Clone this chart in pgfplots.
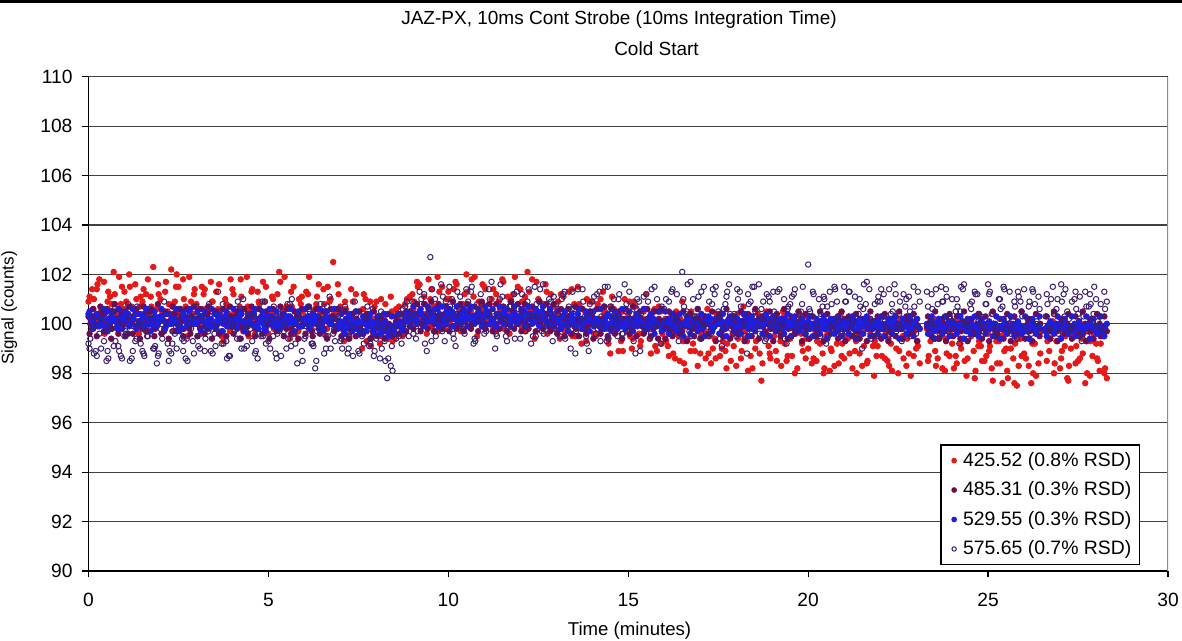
\documentclass[border=0pt]{standalone}
\usepackage{pgfplots}
\pgfplotsset{compat=1.18}
\usepackage{pgfplotstable}
\usepackage{fontspec}
\setmainfont{Liberation Sans}

\definecolor{cred}{RGB}{230,25,25}
\definecolor{cmaroon}{RGB}{115,10,75}
\definecolor{cblue}{RGB}{30,30,225}
\definecolor{copen}{RGB}{60,30,110}

% t = time (min), r = 425.52, m = 485.31, b = 529.55, o = 575.65
\pgfplotstableread{
t r m b o
0.0 100.9 100.3 100.4 99.2
0.1 101.4 99.8 100.1 100.3
0.2 100.2 100.0 100.3 98.9
0.3 101.8 100.4 99.9 99.6
0.4 100.6 100.1 100.2 100.6
0.5 99.9 99.7 100.5 98.5
0.6 101.1 100.2 100.0 99.9
0.7 102.1 100.5 100.2 99.1
0.8 100.4 99.9 99.8 100.4
0.9 100.8 100.0 100.3 98.7
1.0 101.3 100.3 100.1 99.5
1.1 100.0 99.6 100.4 100.8
1.2 100.7 100.1 100.2 98.6
1.3 101.6 100.4 99.9 99.3
1.4 99.6 100.0 100.1 100.1
1.5 100.9 99.8 100.3 98.9
1.6 101.2 100.2 100.6 99.7
1.7 100.3 100.5 100.0 100.5
1.8 102.3 99.9 100.2 99.0
1.9 100.6 100.1 99.9 98.4
2.0 101.0 100.3 100.3 99.8
2.1 99.8 99.7 100.1 100.9
2.2 100.5 100.0 100.4 99.2
2.3 102.2 100.2 100.0 98.8
2.4 100.9 100.4 100.2 99.6
2.5 101.5 99.9 99.8 100.3
2.6 100.1 100.1 100.3 99.4
2.7 100.7 100.3 100.1 98.6
2.8 101.9 99.8 100.5 100.0
2.9 100.4 100.0 100.2 99.3
3.0 100.8 100.2 100.0 100.7
3.1 99.9 99.8 100.3 99.0
3.2 101.2 100.1 100.1 99.8
3.3 100.3 100.4 99.8 100.4
3.4 101.7 99.9 100.2 98.9
3.5 100.0 100.0 100.4 99.6
3.6 100.6 100.3 100.0 101.3
3.7 99.5 99.7 100.1 99.2
3.8 101.0 100.1 100.3 100.1
3.9 100.4 100.2 99.9 98.7
4.0 101.4 99.9 100.2 99.9
4.1 100.1 100.3 100.0 100.6
4.2 100.7 100.0 100.3 99.4
4.3 99.7 99.8 100.1 101.0
4.4 101.9 100.2 99.9 99.1
4.5 100.5 100.4 100.2 99.8
4.6 100.0 99.9 100.4 100.3
4.7 101.3 100.1 100.0 98.6
4.8 100.2 100.3 100.2 99.5
4.9 100.9 99.7 99.8 100.9
5.0 99.6 100.0 100.1 99.3
5.1 101.1 100.2 100.3 100.2
5.2 100.4 99.9 100.0 98.8
5.3 102.1 100.1 100.2 99.7
5.4 100.0 100.4 99.9 100.5
5.5 100.7 99.8 100.1 99.0
5.6 99.4 100.1 100.3 100.8
5.7 101.5 100.0 100.0 99.6
5.8 100.3 100.3 100.2 98.4
5.9 100.8 99.9 99.9 100.1
6.0 100.1 100.2 100.1 99.4
6.1 101.2 100.0 100.3 100.7
6.2 99.8 99.7 100.0 99.2
6.3 100.6 100.3 100.2 98.2
6.4 101.6 100.1 99.8 99.9
6.5 100.2 99.9 100.1 100.4
6.6 99.5 100.2 100.3 99.0
6.7 100.9 100.0 100.0 101.1
6.8 102.5 100.3 100.2 99.6
6.9 100.4 99.8 99.9 100.2
7.0 100.7 100.0 100.1 99.3
7.1 99.3 99.7 99.8 100.5
7.2 100.2 100.2 100.0 98.8
7.3 101.4 99.9 100.2 99.7
7.4 99.8 100.1 99.9 100.9
7.5 100.5 99.8 100.1 98.9
7.6 99.0 100.0 99.7 99.5
7.7 101.0 100.2 100.0 100.2
7.8 100.0 99.9 100.2 99.1
7.9 99.5 99.7 99.9 100.6
8.0 100.9 100.0 100.1 99.4
8.1 99.2 99.8 99.8 98.6
8.2 100.4 100.1 100.0 99.9
8.3 99.7 99.9 99.7 97.8
8.4 101.1 99.6 99.9 98.3
8.5 99.4 99.8 99.8 99.6
8.6 100.2 100.0 100.0 100.4
8.7 99.8 99.7 99.9 99.2
8.8 100.8 100.1 100.2 100.7
8.9 100.3 100.2 100.3 99.5
9.0 101.2 100.3 100.4 100.9
9.1 100.0 100.1 100.2 99.4
9.2 101.6 100.4 100.5 101.3
9.3 100.4 99.9 100.3 100.1
9.4 99.6 100.2 100.1 98.9
9.5 101.0 100.5 100.4 102.7
9.6 100.7 100.0 100.2 99.7
9.7 101.9 100.3 100.6 100.5
9.8 100.2 100.1 100.3 101.6
9.9 99.8 100.4 100.0 99.3
10.0 101.3 100.2 100.3 100.2
10.1 100.5 99.9 100.5 101.0
10.2 101.7 100.3 100.2 99.1
10.3 99.9 100.1 100.4 100.6
10.4 100.8 100.5 100.1 99.8
10.5 102.0 100.2 100.3 101.4
10.6 100.3 99.9 100.6 100.0
10.7 101.1 100.3 100.2 99.2
10.8 99.5 100.1 100.4 100.8
10.9 100.6 100.4 100.1 101.2
11.0 101.5 100.0 100.3 99.6
11.1 100.1 100.3 100.5 100.4
11.2 101.0 100.2 100.2 101.7
11.3 99.7 99.9 100.0 99.0
11.4 100.9 100.4 100.4 100.3
11.5 101.8 100.1 100.3 101.1
11.6 100.4 100.3 100.6 99.5
11.7 99.6 100.0 100.2 100.7
11.8 101.2 100.5 100.4 99.9
11.9 100.0 100.2 100.1 101.3
12.0 101.4 100.1 100.3 99.4
12.1 100.6 100.4 100.5 100.1
12.2 102.1 99.9 100.2 100.9
12.3 100.2 100.2 100.4 99.2
12.4 99.4 100.3 100.1 101.5
12.5 101.0 100.0 100.3 100.3
12.6 100.5 100.2 100.5 99.7
12.7 101.6 100.4 100.2 100.6
12.8 99.9 99.9 100.0 101.0
12.9 100.7 100.2 100.3 99.3
13.0 100.3 100.1 100.2 100.8
13.1 99.4 99.8 100.0 99.5
13.2 101.1 100.2 100.3 101.2
13.3 100.0 100.0 99.9 100.2
13.4 99.6 100.3 100.1 99.0
13.5 100.8 99.9 100.2 100.6
13.6 101.5 100.1 100.4 101.4
13.7 99.2 100.2 100.0 99.8
13.8 100.5 99.8 100.1 100.3
13.9 99.9 100.0 100.3 98.9
14.0 100.9 100.3 100.0 100.9
14.1 99.5 100.1 100.2 99.6
14.2 100.2 99.9 99.9 101.3
14.3 101.3 100.2 100.1 100.0
14.4 99.8 100.0 100.3 99.3
14.5 98.8 99.8 100.0 100.7
14.6 100.6 100.1 100.2 101.0
14.7 100.1 100.3 99.8 99.5
14.8 99.3 99.9 100.1 100.2
14.9 101.0 100.2 100.0 101.6
15.0 100.4 100.0 100.2 99.7
15.1 99.0 99.7 99.9 100.4
15.2 100.7 100.1 100.1 98.8
15.3 99.6 100.2 100.3 100.9
15.4 100.2 99.9 100.0 99.9
15.5 101.2 100.0 99.8 101.2
15.6 99.4 100.3 100.1 99.4
15.7 100.0 99.8 100.2 100.5
15.8 98.9 100.0 99.9 101.0
15.9 100.5 100.1 100.0 99.2
16.0 99.8 99.9 100.1 100.6
16.1 99.1 100.2 99.9 99.8
16.2 100.4 99.8 100.0 101.3
16.3 98.6 100.0 100.2 100.1
16.4 99.5 100.1 99.8 99.3
16.5 100.9 99.7 100.0 102.1
16.6 98.1 99.9 100.1 100.4
16.7 99.9 100.2 99.9 99.7
16.8 99.2 100.0 100.2 101.0
16.9 100.3 99.8 100.0 100.2
17.0 98.8 100.1 99.8 99.4
17.1 99.7 99.9 100.1 101.5
17.2 100.6 100.2 100.0 100.0
17.3 98.4 99.8 100.2 99.6
17.4 99.4 100.0 99.9 101.2
17.5 100.1 100.1 100.0 100.5
17.6 99.0 99.7 100.1 99.1
17.7 98.9 100.0 99.8 100.8
17.8 100.2 100.2 100.0 101.6
17.9 99.6 99.9 100.2 100.2
18.0 98.3 100.0 99.9 99.5
18.1 99.8 99.8 100.1 101.3
18.2 100.7 100.1 99.9 100.4
18.3 99.3 99.9 100.0 98.8
18.4 98.7 100.2 100.2 100.9
18.5 99.9 99.8 99.8 101.5
18.6 100.4 100.0 100.1 99.9
18.7 97.7 100.1 99.9 100.6
18.8 99.5 99.7 100.0 99.3
18.9 99.1 100.0 100.2 101.1
19.0 100.2 99.9 99.9 100.2
19.1 98.9 100.2 100.1 99.7
19.2 99.7 99.8 100.0 101.4
19.3 100.5 100.0 99.8 100.0
19.4 98.5 99.9 100.1 99.2
19.5 99.4 100.1 99.9 100.8
19.6 99.9 99.8 100.2 101.2
19.7 98.2 100.0 100.0 99.8
19.8 99.6 100.2 99.8 100.5
19.9 100.3 99.9 100.0 99.6
20.0 99.0 99.8 100.1 102.4
20.1 98.4 100.0 99.9 100.3
20.2 99.7 99.9 99.8 99.5
20.3 100.1 99.7 100.0 101.0
20.4 98.8 100.1 99.9 100.7
20.5 99.5 99.8 100.1 99.2
20.6 98.1 99.9 99.8 101.3
20.7 99.9 100.0 100.0 100.0
20.8 99.2 99.7 99.9 100.9
20.9 100.4 99.9 100.1 99.6
21.0 98.6 100.2 99.8 101.5
21.1 99.4 99.8 100.0 100.2
21.2 100.0 99.9 99.9 99.7
21.3 98.9 100.1 100.1 101.1
21.4 99.6 99.7 99.8 100.4
21.5 98.3 99.9 100.0 99.0
21.6 99.8 100.0 99.9 100.8
21.7 100.2 99.8 100.1 101.4
21.8 99.1 99.9 99.8 100.1
21.9 98.7 100.1 99.9 99.5
22.0 99.5 99.8 100.0 100.9
22.1 100.3 99.9 99.8 101.2
22.2 98.5 100.0 100.0 99.8
22.3 99.2 99.7 99.9 100.4
22.4 99.9 100.1 100.1 101.6
22.5 98.0 99.9 99.8 100.0
22.6 99.4 99.8 99.9 99.3
22.7 100.1 100.0 100.0 100.7
22.8 98.8 99.9 99.8 101.1
22.9 99.6 99.7 100.1 100.2
23.0 99.0 100.0 99.9 99.6
23.1 98.4 99.8 99.8 100.9
23.3 99.8 99.9 100.0 101.3
23.4 99.3 100.1 99.9 100.1
23.5 100.2 99.8 99.7 99.4
23.6 98.6 99.9 100.0 100.8
23.7 99.5 100.0 99.9 101.5
23.8 98.1 99.7 99.8 100.3
23.9 99.9 99.9 100.1 99.7
24.0 99.2 100.0 99.9 101.0
24.1 98.7 99.8 99.8 100.5
24.2 100.1 99.9 100.0 99.2
24.3 99.4 100.1 99.9 101.4
24.4 97.9 99.8 99.7 100.1
24.5 99.7 99.9 100.0 100.8
24.6 98.9 99.7 99.9 99.6
24.7 100.3 100.0 99.8 101.2
24.8 99.1 99.9 100.1 100.3
24.9 98.5 99.8 99.9 99.9
25.0 99.6 99.9 99.8 101.6
25.1 98.2 100.0 99.9 100.4
25.2 99.9 99.7 100.0 99.5
25.3 99.3 99.9 99.8 101.0
25.4 97.6 99.8 99.9 100.7
25.5 99.0 100.0 99.7 99.8
25.6 100.0 99.8 99.9 101.3
25.7 98.6 99.9 100.0 100.1
25.8 97.5 99.7 99.8 99.4
25.9 99.4 99.9 99.9 100.9
26.0 98.8 99.8 99.7 101.4
26.1 99.7 100.0 99.9 100.2
26.2 97.6 99.9 100.0 99.6
26.3 99.2 99.7 99.8 100.8
26.4 98.4 99.9 99.9 101.1
26.6 99.8 99.8 99.7 100.3
26.7 98.9 100.0 99.9 99.7
26.8 100.1 99.9 99.8 101.5
26.9 99.3 99.7 100.0 100.6
27.0 98.2 99.8 99.9 100.0
27.1 99.6 99.9 99.8 101.2
27.2 97.8 100.0 99.9 100.5
27.3 99.0 99.8 99.7 99.8
27.4 99.9 99.9 100.0 101.0
27.5 98.5 99.7 99.8 100.4
27.6 99.4 99.9 99.9 99.3
27.7 97.6 100.0 99.8 101.3
27.8 99.7 99.8 100.0 100.7
27.9 98.7 99.9 99.9 100.1
28.0 99.2 99.8 99.7 101.0
28.1 98.1 100.0 99.9 100.3
28.2 99.5 99.9 99.8 99.8
28.3 97.8 99.7 100.0 100.9
0.05 100.3 100.0 100.2 99.4
0.15 101.0 100.3 100.0 98.8
0.25 101.6 99.9 100.3 100.1
0.35 100.5 100.2 100.1 99.0
0.45 99.6 100.4 99.9 99.7
0.55 101.3 100.0 100.2 98.6
0.65 100.8 99.8 100.4 100.5
0.75 100.1 100.2 100.1 99.3
0.85 101.9 100.1 99.9 98.9
0.95 100.6 99.9 100.2 100.0
1.05 100.9 100.2 100.3 99.6
1.15 101.5 100.0 100.0 98.5
1.25 100.2 100.3 100.2 99.9
1.35 99.7 99.9 100.4 100.7
1.45 101.1 100.1 100.1 99.2
1.55 100.4 100.4 99.9 98.7
1.65 101.8 100.0 100.2 99.5
1.75 100.7 100.2 100.0 100.2
1.85 99.9 99.8 100.3 99.1
1.95 101.2 100.1 100.1 98.8
2.05 100.5 100.3 100.2 99.4
2.15 101.7 99.9 100.4 100.4
2.25 100.0 100.1 100.0 98.9
2.35 100.8 100.4 100.2 99.7
2.45 102.0 100.0 100.1 99.0
2.55 100.3 100.2 99.9 100.6
2.65 101.0 99.8 100.3 99.3
2.75 99.5 100.1 100.1 98.5
2.85 100.9 100.3 100.0 99.8
2.95 101.4 100.0 100.2 100.3
3.05 100.2 100.1 100.1 99.1
3.15 101.5 100.3 100.3 100.0
3.25 100.6 99.9 100.0 99.4
3.35 99.8 100.2 100.2 100.8
3.45 100.9 100.0 99.9 98.8
3.55 101.3 99.8 100.1 99.9
3.65 100.1 100.2 100.3 100.5
3.75 99.3 100.1 100.0 99.2
3.85 100.7 99.9 100.2 98.6
3.95 101.8 100.3 100.1 100.2
4.05 100.4 100.0 99.9 99.7
4.15 100.0 100.2 100.2 100.9
4.25 101.1 99.9 100.4 99.0
4.35 100.6 100.1 100.0 99.8
4.45 99.5 100.3 100.1 100.4
4.55 101.4 100.0 100.3 99.3
4.65 100.2 99.8 99.9 98.9
4.75 100.8 100.2 100.2 100.6
4.85 101.7 100.1 100.0 99.5
4.95 100.0 99.9 100.3 100.1
5.05 100.5 100.3 100.1 99.0
5.15 99.8 100.0 100.2 100.7
5.25 101.2 100.2 99.9 99.6
5.35 100.3 99.9 100.1 98.7
5.45 101.9 100.1 100.3 100.0
5.55 100.1 100.3 100.0 99.4
5.65 100.7 99.8 100.2 101.0
5.75 99.6 100.1 100.1 99.2
5.85 101.0 100.2 99.9 100.3
5.95 100.5 100.0 100.2 98.5
6.05 101.3 100.1 100.0 99.9
6.15 99.9 99.9 100.2 100.5
6.25 100.4 100.3 100.1 99.1
6.35 101.1 100.0 100.3 99.7
6.45 99.7 100.2 99.9 100.8
6.55 100.8 99.8 100.1 98.8
6.65 101.5 100.1 100.2 99.5
6.75 100.0 100.3 100.0 100.2
6.85 100.6 99.9 100.2 99.3
6.95 101.2 100.1 99.9 100.6
7.05 99.8 99.9 100.0 99.0
7.15 100.6 100.1 100.2 100.1
7.25 99.4 99.8 99.9 99.5
7.35 100.9 100.0 100.1 98.7
7.45 100.2 100.2 99.8 100.4
7.55 99.6 99.9 100.0 99.8
7.65 101.2 99.7 100.2 99.2
7.75 100.4 100.1 99.9 100.7
7.85 99.1 100.0 100.1 99.4
7.95 100.7 99.8 99.8 98.9
8.05 100.1 100.1 100.0 100.3
8.15 99.5 99.9 99.9 99.0
8.25 100.8 99.7 100.1 98.5
8.35 99.9 100.0 99.8 99.8
8.45 99.3 99.8 99.9 98.1
8.55 100.6 100.1 100.0 99.4
8.65 100.0 99.9 100.1 100.2
8.75 99.6 100.0 99.8 99.6
8.85 101.0 100.2 100.1 100.9
8.95 100.5 100.1 100.2 99.9
9.05 100.9 100.2 100.3 100.4
9.15 101.5 100.4 100.1 99.7
9.25 100.1 100.0 100.4 101.0
9.35 100.8 100.3 100.2 99.2
9.45 101.8 100.1 100.5 100.6
9.55 99.9 100.4 100.3 101.4
9.65 100.6 100.2 100.1 99.5
9.75 101.3 99.9 100.4 100.3
9.85 100.3 100.3 100.2 101.1
9.95 101.0 100.1 100.5 99.8
10.05 100.0 100.4 100.2 100.7
10.15 101.4 100.2 100.4 99.4
10.25 100.7 100.0 100.1 101.3
10.35 99.7 100.3 100.3 100.0
10.45 101.2 100.1 100.5 99.6
10.55 100.4 100.4 100.2 100.9
10.65 101.8 100.0 100.3 101.5
10.75 100.1 100.2 100.1 99.3
10.85 100.9 100.3 100.4 100.5
10.95 101.6 100.1 100.2 100.1
11.05 100.2 100.4 100.5 99.7
11.15 100.8 100.0 100.3 101.0
11.25 101.4 100.2 100.1 100.4
11.35 100.0 100.3 100.4 99.5
11.45 100.6 100.1 100.2 101.6
11.55 99.8 100.4 100.5 100.2
11.65 101.1 100.0 100.3 99.8
11.75 100.5 100.2 100.1 100.9
11.85 101.9 100.3 100.4 99.4
11.95 100.3 100.1 100.2 100.6
12.05 100.9 100.4 100.3 101.2
12.15 99.7 100.0 100.1 99.9
12.25 101.3 100.2 100.4 100.3
12.35 100.6 100.1 100.2 99.5
12.45 101.7 100.3 100.5 100.8
12.55 100.1 100.0 100.2 101.4
12.65 100.8 100.2 100.3 99.6
12.75 99.6 100.4 100.1 100.2
12.85 101.2 100.1 100.4 100.9
12.95 100.4 100.0 100.2 99.8
13.05 100.9 100.2 100.1 100.4
13.15 99.8 99.9 100.3 101.0
13.25 100.4 100.1 100.0 99.4
13.35 101.3 100.3 100.2 100.7
13.45 99.5 100.0 100.1 101.3
13.55 100.1 99.8 99.9 99.7
13.65 100.7 100.2 100.2 100.1
13.75 99.9 100.1 100.0 100.9
13.85 101.0 99.9 100.3 99.2
13.95 100.3 100.2 100.1 100.5
14.05 99.6 100.0 99.9 101.1
14.15 100.8 100.1 100.2 99.8
14.25 99.9 99.8 100.0 100.3
14.35 100.5 100.2 100.1 101.5
14.45 99.2 100.0 99.9 99.4
14.55 101.1 100.3 100.2 100.6
14.65 99.7 99.9 100.0 100.0
14.75 100.4 100.1 100.3 101.2
14.85 98.9 100.0 99.9 99.6
14.95 100.2 100.2 100.1 100.8
15.05 99.5 99.9 100.0 100.2
15.15 100.9 100.1 100.2 99.3
15.25 100.0 100.0 99.9 101.0
15.35 99.3 100.2 100.1 100.4
15.45 100.6 99.8 100.0 99.7
15.55 99.8 100.1 100.2 100.9
15.65 100.3 100.0 99.9 101.4
15.75 99.1 99.9 100.1 99.9
15.85 100.7 100.2 100.0 100.5
15.95 99.6 100.0 99.8 100.1
16.05 99.3 100.1 100.0 101.0
16.15 100.0 99.8 100.2 99.6
16.25 98.8 100.0 99.9 100.4
16.35 99.6 100.2 100.1 101.2
16.45 100.2 99.9 99.8 99.9
16.55 98.4 100.0 100.0 100.7
16.65 99.4 100.1 100.2 101.6
16.75 100.5 99.8 99.9 99.5
16.85 98.9 100.0 100.1 100.3
16.95 99.7 100.2 100.0 101.1
17.05 100.3 99.9 99.8 100.0
17.15 98.6 100.0 100.1 99.7
17.25 99.5 100.1 100.0 100.9
17.35 99.0 99.8 99.9 101.4
17.45 100.4 100.0 100.2 100.2
17.55 98.7 100.2 100.0 99.4
17.65 99.8 99.9 99.8 100.6
17.75 99.2 100.1 100.1 101.3
17.85 98.5 100.0 100.0 99.8
17.95 100.0 99.8 100.2 100.4
18.05 99.4 100.1 99.9 101.0
18.15 98.9 99.9 100.0 100.1
18.25 99.7 100.0 100.2 99.5
18.35 100.3 100.2 99.8 100.8
18.45 98.2 99.8 100.0 101.5
18.55 99.3 100.0 100.1 100.3
18.65 98.8 100.1 99.9 99.6
18.75 99.9 99.9 100.0 100.9
18.85 100.5 100.0 100.2 101.2
18.95 98.6 99.8 99.9 99.9
19.05 99.5 100.1 100.1 100.5
19.15 99.9 99.9 99.8 101.3
19.25 98.3 100.0 100.0 100.0
19.35 99.2 100.2 100.2 99.4
19.45 100.1 99.8 99.9 100.7
19.55 98.7 100.0 100.1 101.1
19.65 99.6 100.1 99.8 99.7
19.75 100.4 99.9 100.0 100.4
19.85 98.9 100.0 100.1 101.5
19.95 99.4 99.8 99.9 99.9
20.05 99.8 100.0 99.8 100.5
20.15 98.6 99.9 100.0 101.2
20.25 99.3 99.7 99.9 99.8
20.35 100.0 100.0 100.1 100.4
20.45 98.2 99.8 99.8 101.0
20.55 99.6 99.9 100.0 99.5
20.65 98.9 100.1 99.9 100.8
20.75 99.9 99.8 100.1 101.4
20.85 98.4 99.9 99.8 100.1
20.95 99.2 100.0 100.0 99.7
21.05 100.2 99.8 99.9 100.9
21.15 98.8 99.9 100.1 101.3
21.25 99.5 100.1 99.8 100.2
21.35 98.0 99.7 100.0 99.6
21.45 99.7 99.9 99.9 100.7
21.55 99.1 100.0 100.1 101.6
21.65 98.5 99.8 99.8 100.0
21.75 99.9 99.9 100.0 99.4
21.85 99.3 100.1 99.9 100.8
21.95 100.1 99.8 100.1 101.1
22.05 98.7 99.9 99.8 100.3
22.15 99.6 100.0 100.0 99.9
22.25 98.3 99.7 99.9 101.4
22.35 99.8 99.9 100.1 100.5
22.45 99.0 100.0 99.8 99.7
22.55 100.2 99.8 100.0 100.9
22.65 98.6 99.9 99.9 101.2
22.75 99.4 100.1 100.0 100.1
22.85 97.9 99.8 99.8 99.5
22.95 99.7 99.9 100.0 100.7
23.05 99.1 99.9 99.9 101.3
23.35 98.7 99.8 99.9 100.0
23.45 99.9 100.0 100.1 100.6
23.55 98.3 99.9 99.8 101.4
23.65 99.4 99.7 100.0 99.6
23.75 100.0 99.9 99.9 100.9
23.85 98.8 100.0 99.8 101.1
23.95 99.6 99.8 100.0 100.2
24.05 98.2 99.9 99.9 99.8
24.15 99.8 100.0 99.8 100.7
24.25 99.0 99.7 100.0 101.5
24.35 98.5 99.9 99.9 100.0
24.45 99.7 100.0 99.8 99.4
24.55 100.2 99.8 100.0 100.9
24.65 98.1 99.9 99.9 101.2
24.75 99.3 99.7 99.7 100.4
24.85 99.9 99.9 100.0 99.7
24.95 98.7 100.0 99.9 100.8
25.05 99.1 99.8 99.8 101.3
25.15 100.0 99.9 100.0 100.0
25.25 98.4 99.7 99.9 99.6
25.35 99.5 99.9 99.8 100.6
25.45 98.9 100.0 100.0 101.4
25.55 97.8 99.8 99.9 100.2
25.65 99.7 99.9 99.7 99.8
25.75 99.2 99.7 99.9 100.7
25.85 98.3 99.9 100.0 101.1
25.95 99.9 99.8 99.8 100.3
26.05 98.6 99.9 99.9 99.5
26.15 99.4 99.7 99.8 100.9
26.25 98.0 99.9 100.0 101.3
26.35 99.6 99.8 99.9 100.1
26.45 98.8 100.0 99.8 99.7
26.65 99.3 99.9 99.9 100.8
26.75 100.0 99.7 100.0 101.0
26.85 98.4 99.9 99.8 100.4
26.95 99.8 99.8 99.9 99.6
27.05 98.9 100.0 100.0 100.9
27.15 99.5 99.7 99.8 101.4
27.25 98.3 99.9 99.9 100.2
27.35 99.9 99.8 99.7 99.9
27.45 99.1 99.9 100.0 100.6
27.55 98.6 100.0 99.9 101.1
27.65 99.7 99.8 99.8 100.3
27.75 98.0 99.9 99.9 99.5
27.85 99.3 99.7 100.0 100.8
27.95 99.9 99.9 99.8 101.5
28.05 98.5 99.8 99.9 100.1
28.15 99.6 99.9 99.7 99.7
28.25 98.2 99.8 99.9 100.6
0.03 101.1 99.6 100.5 99.0
0.13 100.6 100.6 99.8 99.9
0.23 101.4 99.5 100.4 98.7
0.33 100.0 100.7 100.0 100.2
0.43 101.7 99.7 100.6 99.3
0.53 100.9 100.6 99.7 98.9
0.63 100.3 99.4 100.5 99.8
0.73 101.2 100.8 100.1 100.6
0.83 99.8 99.6 100.6 99.1
0.93 101.5 100.5 99.8 98.6
1.03 100.6 99.5 100.5 99.7
1.13 102.0 100.7 99.9 100.3
1.23 100.1 99.6 100.6 98.9
1.33 101.0 100.6 99.8 99.4
1.43 100.7 99.4 100.4 100.0
1.53 101.4 100.7 100.0 98.8
1.63 99.9 99.7 100.6 99.5
1.73 101.1 100.6 99.7 100.4
1.83 100.5 99.5 100.5 99.0
1.93 101.6 100.8 100.0 98.7
2.03 100.2 99.6 100.6 99.6
2.13 101.3 100.5 99.8 100.1
2.23 100.8 99.4 100.4 98.5
2.33 99.7 100.7 100.1 99.2
2.43 101.5 99.7 100.6 99.9
2.53 100.4 100.6 99.7 100.6
2.63 101.8 99.5 100.5 98.9
2.73 100.6 100.6 99.9 99.4
2.83 100.0 99.6 100.6 100.2
2.93 101.2 100.7 100.0 98.8
3.03 100.6 99.5 100.5 99.5
3.13 99.6 100.6 99.7 100.3
3.23 101.4 99.6 100.5 98.9
3.33 100.5 100.7 100.0 99.7
3.43 100.9 99.4 100.6 100.5
3.53 99.9 100.5 99.8 99.1
3.63 101.6 99.6 100.4 99.6
3.73 100.3 100.6 99.7 100.8
3.83 100.8 99.5 100.5 99.3
3.93 99.7 100.7 100.0 98.7
4.03 101.2 99.6 100.6 100.0
4.13 100.4 100.5 99.8 99.4
4.23 101.8 99.4 100.5 100.6
4.33 100.0 100.6 99.7 99.0
4.43 100.7 99.6 100.4 99.9
4.53 101.3 100.7 100.0 100.4
4.63 99.6 99.5 100.6 98.8
4.73 100.9 100.6 99.8 99.6
4.83 100.2 99.6 100.5 100.9
4.93 101.5 100.5 99.7 99.2
5.03 100.4 99.4 100.6 100.0
5.13 101.0 100.6 99.9 99.5
5.23 99.8 99.7 100.5 98.6
5.33 101.7 100.7 99.8 100.3
5.43 100.6 99.5 100.4 99.7
5.53 100.1 100.6 100.0 100.8
5.63 101.3 99.6 100.6 99.1
5.73 100.5 100.5 99.7 99.8
5.83 99.7 99.4 100.5 100.4
5.93 101.1 100.6 99.9 98.9
6.03 100.3 99.6 100.6 99.5
6.13 101.9 100.7 99.8 100.6
6.23 100.0 99.5 100.4 99.2
6.33 100.8 100.6 100.0 98.5
6.43 100.4 99.6 100.6 100.1
6.53 101.4 100.5 99.7 99.6
6.63 99.8 99.4 100.5 100.7
6.73 101.0 100.6 100.0 99.0
6.83 100.5 99.7 100.6 99.8
6.93 101.6 100.6 99.8 100.3
7.03 100.0 99.5 100.4 99.4
7.13 100.9 100.5 99.6 100.7
7.23 99.5 99.4 100.4 99.0
7.33 100.4 100.4 99.7 99.9
7.43 101.2 99.5 100.5 100.5
7.53 99.8 100.5 99.6 98.8
7.63 100.6 99.6 100.3 99.6
7.73 99.3 100.4 99.7 100.3
7.83 100.9 99.4 100.4 99.2
7.93 100.2 100.5 99.6 98.7
8.03 99.7 99.5 100.3 99.9
8.13 101.0 100.3 99.6 100.5
8.23 100.3 99.4 100.4 99.3
8.33 99.4 100.4 99.5 98.6
8.43 100.5 99.5 100.3 99.1
8.53 99.9 100.3 99.6 100.0
8.63 100.7 99.6 100.4 99.5
8.73 99.5 100.4 99.7 100.6
8.83 100.4 99.7 100.5 99.8
8.93 101.1 100.5 99.9 100.3
9.03 100.6 99.8 100.7 99.6
9.13 101.7 100.8 100.0 100.8
9.23 100.3 99.7 100.6 99.9
9.33 101.1 100.8 99.9 101.2
9.43 100.0 99.8 100.7 100.4
9.53 101.4 100.9 100.1 99.3
9.63 100.7 99.7 100.6 101.0
9.73 99.7 100.8 99.9 100.2
9.83 101.5 99.8 100.7 99.7
9.93 100.4 100.7 100.0 100.9
10.03 101.0 99.7 100.6 101.5
10.13 100.2 100.9 99.9 99.6
10.23 101.6 99.8 100.7 100.4
10.33 100.6 100.8 100.0 101.1
10.43 99.8 99.7 100.6 99.9
10.53 101.3 100.8 99.9 100.6
10.63 100.5 99.8 100.7 101.3
10.73 101.9 100.7 100.0 99.4
10.83 100.1 99.7 100.6 100.1
10.93 100.8 100.9 99.9 100.8
11.03 101.4 99.8 100.7 99.8
11.13 100.3 100.8 100.0 101.4
11.23 99.9 99.7 100.6 100.5
11.33 101.2 100.8 99.9 99.6
11.43 100.6 99.8 100.7 101.0
11.53 101.7 100.7 100.0 100.2
11.63 100.0 99.7 100.6 99.3
11.73 101.0 100.9 99.9 100.7
11.83 100.4 99.8 100.7 101.2
11.93 101.5 100.8 100.0 100.0
12.03 99.9 99.7 100.6 100.5
12.13 101.1 100.8 99.9 99.7
12.23 100.5 99.8 100.7 101.4
12.33 101.8 100.7 100.0 100.3
12.43 100.2 99.7 100.6 99.5
12.53 100.9 100.9 99.9 100.9
12.63 100.0 99.8 100.7 101.6
12.73 101.3 100.8 100.0 99.9
12.83 100.6 99.7 100.6 100.4
12.93 99.8 100.8 99.9 101.1
13.03 100.6 99.6 100.5 99.6
13.13 101.2 100.6 99.8 100.5
13.23 99.7 99.5 100.5 101.3
13.33 100.3 100.6 99.7 99.9
13.43 101.4 99.6 100.4 100.6
13.53 99.5 100.7 100.0 98.8
13.63 100.8 99.5 100.6 100.2
13.73 100.1 100.6 99.8 101.4
13.83 99.3 99.6 100.5 99.5
13.93 100.9 100.5 99.7 100.8
14.03 100.2 99.4 100.5 100.0
14.13 99.6 100.6 100.0 101.2
14.23 101.0 99.6 100.6 99.3
14.33 100.4 100.7 99.8 100.7
14.43 99.4 99.5 100.4 101.5
14.53 100.7 100.6 99.7 99.8
14.63 100.0 99.6 100.5 100.3
14.73 98.9 100.5 100.0 101.0
14.83 100.5 99.4 100.6 99.6
14.93 99.8 100.6 99.8 100.5
15.03 100.9 99.6 100.5 101.3
15.13 99.4 100.7 99.7 99.9
15.23 100.3 99.5 100.4 100.6
15.33 99.1 100.5 100.0 98.9
15.43 100.5 99.6 100.6 101.1
15.53 99.9 100.6 99.8 100.2
15.63 98.8 99.5 100.4 99.6
15.73 100.6 100.5 99.6 101.5
15.83 100.0 99.4 100.5 100.0
15.93 99.2 100.6 99.7 100.7
16.03 100.2 99.4 100.5 99.8
16.13 98.7 100.5 99.6 100.9
16.23 99.6 99.5 100.4 101.4
16.33 100.5 100.3 99.7 100.2
16.43 98.5 99.6 100.4 99.6
16.53 99.3 100.5 99.5 101.0
16.63 100.1 99.3 100.3 100.5
16.73 98.9 100.4 99.6 101.7
16.83 99.8 99.5 100.2 99.9
16.93 98.3 100.6 99.7 100.6
17.03 99.5 99.4 100.4 101.3
17.13 100.3 100.3 99.5 100.0
17.23 98.8 99.6 100.3 99.5
17.33 99.7 100.5 99.7 100.8
17.43 98.6 99.3 100.2 101.5
17.53 100.0 100.4 99.6 100.3
17.63 99.3 99.5 100.4 99.8
17.73 98.2 100.6 99.5 101.1
17.83 99.9 99.4 100.3 100.4
17.93 99.1 100.3 99.7 99.6
18.03 100.4 99.6 100.2 101.4
18.13 98.6 100.5 99.6 100.7
18.23 99.4 99.3 100.4 100.0
18.33 98.1 100.4 99.5 101.2
18.43 99.8 99.5 100.3 99.7
18.53 99.0 100.6 99.7 100.5
18.63 100.2 99.4 100.2 101.6
18.73 98.4 100.3 99.6 100.2
18.83 99.6 99.6 100.4 99.4
18.93 98.8 100.5 99.5 100.9
19.03 99.8 99.3 100.3 101.3
19.13 98.5 100.4 99.7 100.1
19.23 99.3 99.5 100.2 99.7
19.33 100.3 100.6 99.6 101.0
19.43 98.7 99.4 100.4 100.6
19.53 99.5 100.3 99.5 99.5
19.63 98.0 99.6 100.3 101.4
19.73 99.9 100.5 99.7 100.2
19.83 99.2 99.3 100.2 100.8
19.93 98.6 100.4 99.6 99.9
20.03 99.4 99.4 100.3 100.6
20.13 100.0 100.3 99.5 101.3
20.23 98.5 99.5 100.2 100.0
20.33 99.2 100.5 99.6 99.5
20.43 98.0 99.3 100.3 101.1
20.53 99.7 100.4 99.4 100.7
20.63 99.0 99.6 100.2 99.9
20.73 98.3 100.2 99.6 101.5
20.83 99.8 99.4 100.3 100.3
20.93 98.7 100.5 99.5 99.6
21.03 99.5 99.3 100.1 100.9
21.13 100.1 100.3 99.6 101.3
21.23 98.2 99.5 100.3 100.0
21.33 99.3 100.4 99.4 99.4
21.43 98.8 99.4 100.2 101.0
21.53 99.9 100.2 99.6 100.6
21.63 98.4 99.3 100.3 101.7
21.73 99.6 100.5 99.5 100.2
21.83 97.9 99.5 100.1 99.7
21.93 99.1 100.3 99.6 100.9
22.03 100.0 99.4 100.3 101.4
22.13 98.6 100.4 99.5 100.1
22.23 99.4 99.3 100.2 99.5
22.33 98.1 100.2 99.6 100.8
22.43 99.8 99.5 100.3 101.2
22.53 98.9 100.5 99.4 100.4
22.63 99.5 99.4 100.2 99.8
22.73 98.3 100.3 99.6 101.0
22.83 99.9 99.6 100.3 100.5
22.93 98.7 100.4 99.5 101.5
23.03 99.3 99.3 100.2 99.9
23.33 98.5 100.3 99.6 100.7
23.43 99.7 99.5 100.3 101.2
23.53 98.9 100.5 99.4 100.0
23.63 100.1 99.4 100.2 99.4
23.73 98.2 100.2 99.6 100.9
23.83 99.4 99.3 100.3 101.4
23.93 98.7 100.4 99.5 100.3
24.03 99.9 99.5 100.1 99.8
24.13 98.4 100.3 99.6 101.0
24.23 99.2 99.4 100.3 100.5
24.33 100.0 100.5 99.4 101.6
24.43 98.6 99.3 100.2 99.9
24.53 99.5 100.2 99.6 100.6
24.63 97.8 99.6 100.3 101.3
24.73 99.1 100.4 99.5 100.1
24.83 98.5 99.4 100.2 99.5
24.93 99.8 100.3 99.6 100.8
25.03 98.9 99.3 100.1 101.2
25.13 97.7 100.5 99.5 100.4
25.23 99.3 99.5 100.3 99.8
25.33 98.4 100.2 99.4 101.0
25.43 99.6 99.4 100.2 101.5
25.53 98.1 100.4 99.6 100.2
25.63 99.0 99.3 100.3 99.6
25.73 97.6 100.3 99.5 100.9
25.83 99.4 99.6 100.1 101.3
25.93 98.7 100.5 99.6 100.5
26.03 99.9 99.4 100.3 99.9
26.13 98.3 100.2 99.4 100.7
26.23 99.2 99.3 100.2 101.4
26.33 97.9 100.4 99.6 100.0
26.43 99.6 99.5 100.3 100.6
26.63 98.5 100.3 99.5 101.2
26.73 99.4 99.4 100.1 99.8
26.83 98.0 100.5 99.6 100.4
26.93 99.7 99.3 100.3 101.0
27.03 98.6 100.2 99.4 101.6
27.13 99.1 99.6 100.2 100.3
27.23 97.7 100.4 99.6 99.7
27.33 99.5 99.4 100.3 100.9
27.43 98.4 100.3 99.5 101.3
27.53 99.8 99.5 100.1 100.1
27.63 98.8 100.5 99.6 99.6
27.73 99.3 99.3 100.3 100.7
27.83 97.9 100.2 99.4 101.2
27.93 99.6 99.4 100.2 100.4
28.03 98.6 100.4 99.6 99.9
28.13 99.2 99.5 100.3 100.8
28.23 98.0 100.3 99.5 101.3
}\jaz

\begin{document}
\begin{tikzpicture}
\path[use as bounding box] (0,0) rectangle (591pt,320.5pt);
\fill[black] (0,318.8pt) rectangle (591pt,320.5pt);
\node[anchor=base,inner sep=0pt,font=\fontsize{9.5}{11}\selectfont] at (309.5pt,308pt)
  {JAZ-PX, 10ms Cont Strobe (10ms Integration Time)};
\node[anchor=base,inner sep=0pt,font=\fontsize{9.5}{11}\selectfont] at (328.25pt,292.5pt) {Cold Start};
\node[anchor=base,inner sep=0pt,font=\fontsize{9.3}{11}\selectfont] at (314.75pt,2.5pt) {Time (minutes)};
\node[rotate=90,anchor=base,inner sep=0pt,font=\fontsize{8.5}{10}\selectfont] at (6.75pt,166.5pt) {Signal (counts)};
\begin{axis}[
  at={(44.25pt,35pt)}, anchor=south west,
  scale only axis, width=539.75pt, height=247.15pt,
  xmin=0, xmax=30, ymin=90, ymax=110,
  xtick={0,5,...,30}, ytick={90,92,...,110},
  axis x line*=bottom, axis y line*=left,
  axis line style={-, black, line width=0.6pt},
  ymajorgrids, major grid style={black!75, line width=0.6pt},
  tick align=outside, major tick length=3pt,
  tick style={black, line width=0.6pt},
  /pgf/number format/assume math mode=true,
  ticklabel style={font=\fontsize{9.6}{11}\selectfont},
  yticklabel style={xshift=-1.5pt},
  xticklabel style={yshift=-4.5pt},
  legend style={at={(0.974,0.256)}, anchor=north east, draw=black, fill=white,
    line width=0.6pt, font=\fontsize{9.7}{11}\selectfont, cells={anchor=west},
    inner xsep=2pt, inner ysep=1.5pt, row sep=2.2pt},
  legend image code/.code={\path (-2.3pt,0pt) (4.2pt,0pt);
    \draw[#1, mark size=1.1pt] plot coordinates {(2pt,0pt)};},
]
\addplot[only marks, mark=*, mark size=1.4pt, color=cred] table[x=t,y=r] {\jaz};
\addlegendentry{425.52 (0.8\% RSD)}
\addplot[only marks, mark=*, mark size=1.4pt, color=cmaroon] table[x=t,y=m] {\jaz};
\addlegendentry{485.31 (0.3\% RSD)}
\addplot[only marks, mark=*, mark size=1.4pt, color=cblue] table[x=t,y=b] {\jaz};
\addlegendentry{529.55 (0.3\% RSD)}
\addplot[only marks, mark=o, mark size=1.35pt, color=copen, line width=0.5pt] table[x=t,y=o] {\jaz};
\addlegendentry{575.65 (0.7\% RSD)}
\draw[black!45, line width=0.8pt] (rel axis cs:1,0) -- (rel axis cs:1,1);
\end{axis}
\end{tikzpicture}
\end{document}
